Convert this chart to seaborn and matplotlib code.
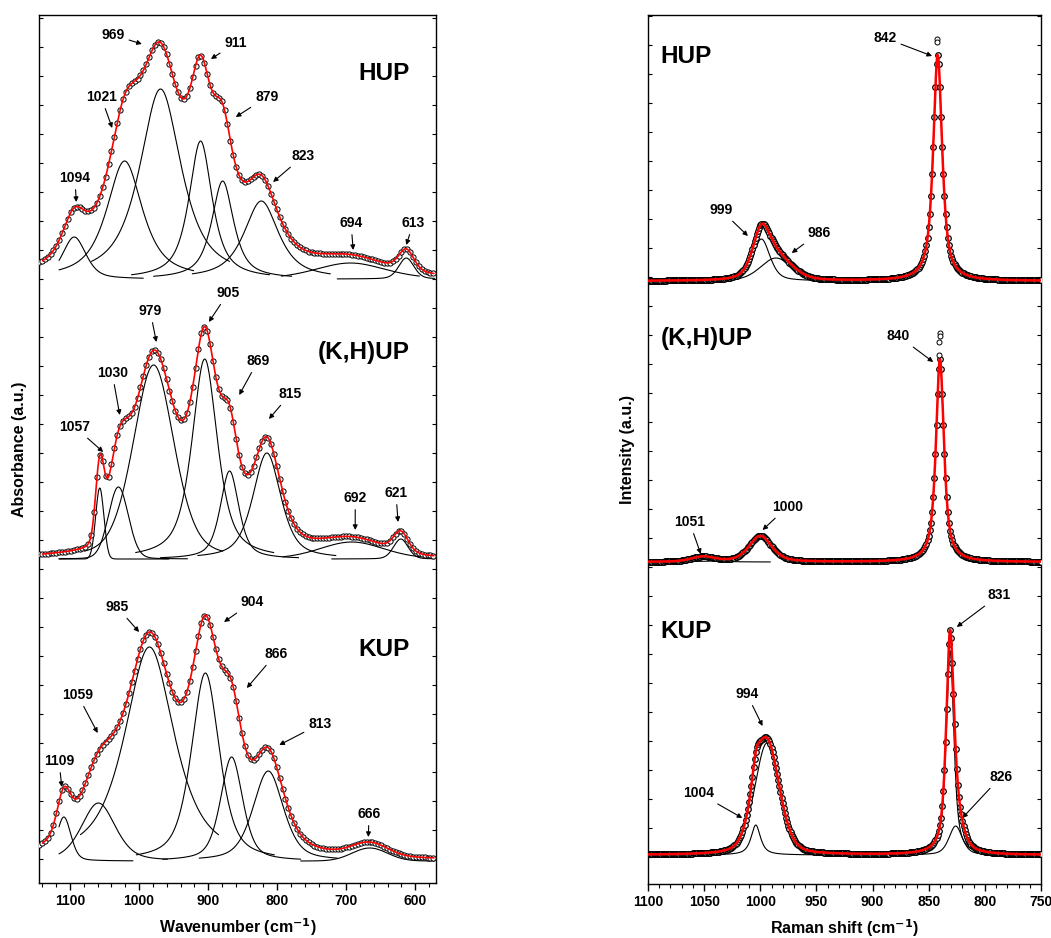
import numpy as np
import pandas as pd
import matplotlib
matplotlib.use("Agg")
import matplotlib.pyplot as plt
from matplotlib.ticker import MultipleLocator, FixedLocator
import seaborn as sns

sns.set_style("ticks")
plt.rcParams["font.family"] = ["Liberation Sans", "DejaVu Sans"]
plt.rcParams["font.weight"] = "bold"
plt.rcParams["mathtext.default"] = "bf"
for key in ["text.color", "axes.labelcolor", "xtick.color", "ytick.color", "axes.edgecolor"]:
    plt.rcParams[key] = "black"

# ---- IR (left column): band centre, height, FWHM, Lorentz fraction ----
ir_hup_pos = [1094, 1021, 969, 911, 879, 823, 694, 613]
ir_hup_amp = [42, 118, 190, 138, 98, 78, 16, 21]
ir_hup_fwhm = [40, 62, 72, 40, 38, 60, 120, 26]
ir_hup_eta = [0.5, 0.8, 0.8, 0.8, 0.8, 0.8, 0.3, 0.3]

ir_kh_pos = [1057, 1030, 979, 905, 869, 815, 692, 621]
ir_kh_amp = [71, 72, 194, 200, 88, 106, 17, 20]
ir_kh_fwhm = [14, 34, 70, 44, 32, 48, 110, 25]
ir_kh_eta = [0.0, 0.1, 0.35, 0.7, 0.6, 0.6, 0.2, 0.2]

ir_kup_pos = [1109, 1059, 985, 904, 866, 813, 666]
ir_kup_amp = [44, 58, 214, 188, 104, 90, 13]
ir_kup_fwhm = [24, 58, 86, 48, 38, 52, 60]
ir_kup_eta = [0.3, 0.4, 0.75, 0.6, 0.5, 0.5, 0.0]

ir_base = [604, 324, 22]
ir_names = ["HUP", "(K,H)UP", "KUP"]

# ---- Raman (right column) ----
ra_hup_pos = [999, 986, 842]
ra_hup_amp = [42, 23, 226]
ra_hup_fwhm = [18, 33, 9.5]
ra_hup_eta = [0.5, 0.3, 0.8]

ra_kh_pos = [1051, 1000, 840]
ra_kh_amp = [5, 26, 203]
ra_kh_fwhm = [25, 24, 8.5]
ra_kh_eta = [0.3, 0.5, 0.8]

ra_kup_pos = [1004, 994, 831, 826]
ra_kup_amp = [30, 112, 205, 29]
ra_kup_fwhm = [10, 26, 8, 14]
ra_kup_eta = [0.8, 0.3, 0.7, 0.5]

ra_base = [603, 322, 29]
ra_names = ["HUP", "(K,H)UP", "KUP"]

# points lying above the fitted maximum (Raman)
ra_hup_out_x = [842.3, 842.3]
ra_hup_out_y = [242, 239]
ra_kh_out_x = [840.3, 840.3, 840.5, 841.0]
ra_kh_out_y = [229, 226, 220, 207]

# peak labels: text, (x, y) of text, (x, y) of arrow tip
ir_labels = [
    ("969", (1038, 848), (996, 839)), ("911", (860, 840), (896, 824)),
    ("1021", (1055, 786), (1039, 755)), ("879", (815, 786), (860, 766)),
    ("823", (762, 727), (806, 701)), ("1094", (1093, 705), (1091, 681)),
    ("694", (693, 660), (690, 633)), ("613", (603, 660), (613, 638)),
    ("979", (984, 572), (975, 541)), ("905", (871, 590), (899, 561)),
    ("1030", (1039, 510), (1028, 468)), ("869", (828, 522), (855, 488)),
    ("815", (781, 489), (812, 464)), ("1057", (1093, 456), (1052, 431)),
    ("692", (687, 385), (687, 353)), ("621", (628, 390), (625, 361)),
    ("985", (1032, 276), (1000, 251)), ("904", (836, 281), (877, 261)),
    ("866", (802, 229), (844, 195)), ("1059", (1089, 188), (1060, 150)),
    ("813", (738, 159), (797, 138)), ("1109", (1116, 122), (1112, 96)),
    ("666", (667, 69), (668, 46)),
]
ir_name_xy = [(645, 809), (675, 530), (645, 233)]

ra_labels = [
    ("842", (889, 846), (847, 828)), ("999", (1035, 674), (1011, 648)),
    ("986", (948, 651), (972, 631)),
    ("840", (877, 548), (846, 522)), ("1000", (976, 377), (998, 354)),
    ("1051", (1063, 362), (1053, 330)),
    ("831", (787, 289), (825, 257)), ("994", (1012, 190), (998, 158)),
    ("1004", (1055, 91), (1016, 66)), ("826", (786, 107), (820, 66)),
]
ra_name_x = 1089


def pvoigt(x, c, a, w, eta):
    g = np.exp(-4 * np.log(2) * ((x - c) / w) ** 2)
    l = 1 / (1 + ((x - c) / (w / 2)) ** 2)
    return a * (eta * l + (1 - eta) * g)


def draw_stack(ax, sets, bases, x_fit, x_dat, x_lo, x_hi, win, fit_lw, msize, mlw):
    for (pos, amp, fwhm, eta), base in zip(sets, bases):
        rows = []
        for i, (c, a, w, e) in enumerate(zip(pos, amp, fwhm, eta)):
            xx = np.linspace(min(c + win, x_hi), max(c - win, x_lo), 200)
            rows.append(pd.DataFrame({"x": xx, "y": base + pvoigt(xx, c, a, w, e), "peak": i}))
        comp = pd.concat(rows)
        sns.lineplot(data=comp, x="x", y="y", units="peak", estimator=None, sort=False,
                     color="black", lw=0.8, ax=ax, legend=False)
        total = lambda xx: base + sum(pvoigt(xx, c, a, w, e) for c, a, w, e in zip(pos, amp, fwhm, eta))
        sns.scatterplot(x=x_dat, y=total(x_dat), ax=ax, marker="o", s=msize,
                        color="white", edgecolor="black", linewidth=mlw, zorder=3)
        sns.lineplot(x=x_fit, y=total(x_fit), ax=ax, color="red", lw=fit_lw,
                     estimator=None, sort=False, zorder=4)


fig = plt.figure(figsize=(10.51, 9.38), dpi=100)
ax1 = fig.add_axes([39 / 1051, 55 / 938, 397 / 1051, 868 / 938])
ax2 = fig.add_axes([648 / 1051, 54 / 938, 393 / 1051, 869 / 938])

# left: IR absorbance
draw_stack(ax1,
           [(ir_hup_pos, ir_hup_amp, ir_hup_fwhm, ir_hup_eta),
            (ir_kh_pos, ir_kh_amp, ir_kh_fwhm, ir_kh_eta),
            (ir_kup_pos, ir_kup_amp, ir_kup_fwhm, ir_kup_eta)],
           ir_base, np.linspace(1140, 573, 600), np.arange(1145, 571, -4.2),
           572, 1116, 100, 1.2, 14, 0.7)
for t, xy, tip in ir_labels:
    ax1.annotate(t, xy=tip, xytext=xy, ha="center", va="center", fontsize=10, fontweight="bold",
                 arrowprops=dict(arrowstyle="-|>", color="black", lw=0.8, mutation_scale=7,
                                 shrinkA=1, shrinkB=0))
for name, xy in zip(ir_names, ir_name_xy):
    ax1.text(xy[0], xy[1], name, ha="center", va="center", fontsize=17.5, fontweight="bold")
ax1.set_xlim(1145, 570)
ax1.set_ylim(0, 868)
ax1.xaxis.set_major_locator(MultipleLocator(100))
ax1.xaxis.set_minor_locator(MultipleLocator(20))
ax1.yaxis.set_major_locator(FixedLocator(np.arange(24, 868, 29)))
ax1.set_xlabel("Wavenumber (cm$^{-1}$)", fontsize=11.5, fontweight="bold")
ax1.set_ylabel("Absorbance (a.u.)", fontsize=11.5, fontweight="bold")

# right: Raman intensity
draw_stack(ax2,
           [(ra_hup_pos, ra_hup_amp, ra_hup_fwhm, ra_hup_eta),
            (ra_kh_pos, ra_kh_amp, ra_kh_fwhm, ra_kh_eta),
            (ra_kup_pos, ra_kup_amp, ra_kup_fwhm, ra_kup_eta)],
           ra_base, np.linspace(1100, 750, 1400), np.arange(1100, 749, -1.0),
           750, 1100, 60, 1.8, 16, 0.9)
sns.scatterplot(x=ra_hup_out_x, y=np.array(ra_hup_out_y) + ra_base[0], ax=ax2, marker="o", s=13,
                color="white", edgecolor="black", linewidth=0.7, zorder=5)
sns.scatterplot(x=ra_kh_out_x, y=np.array(ra_kh_out_y) + ra_base[1], ax=ax2, marker="o", s=13,
                color="white", edgecolor="black", linewidth=0.7, zorder=5)
for t, xy, tip in ra_labels:
    ax2.annotate(t, xy=tip, xytext=xy, ha="center", va="center", fontsize=10, fontweight="bold",
                 arrowprops=dict(arrowstyle="-|>", color="black", lw=0.8, mutation_scale=7,
                                 shrinkA=1, shrinkB=0))
for name, base in zip(ra_names, ra_base):
    ax2.text(ra_name_x, base + 224, name, ha="left", va="center", fontsize=17.5, fontweight="bold")
ax2.set_xlim(1100, 750)
ax2.set_ylim(0, 869)
ax2.xaxis.set_major_locator(MultipleLocator(50))
ax2.xaxis.set_minor_locator(MultipleLocator(10))
ax2.yaxis.set_major_locator(FixedLocator(np.arange(27, 869, 29)))
ax2.set_xlabel("Raman shift (cm$^{-1}$)", fontsize=11.5, fontweight="bold")
ax2.set_ylabel("Intensity (a.u.)", fontsize=11.5, fontweight="bold")

for ax, ylx in ((ax1, -0.05), (ax2, -0.051)):
    ax.xaxis.set_label_coords(0.5, -0.051)
    ax.xaxis.label.set_verticalalignment("center")
    ax.yaxis.set_label_coords(ylx, 0.5)
    ax.yaxis.label.set_verticalalignment("center")
    for s in ax.spines.values():
        s.set_linewidth(1.0)
        s.set_color("black")
    ax.tick_params(axis="x", which="major", direction="out", length=5, width=1,
                   labelsize=10, pad=3)
    ax.tick_params(axis="x", which="minor", direction="out", length=3, width=0.8)
    ax.tick_params(axis="y", which="major", direction="in", length=3, width=0.8,
                   left=True, right=True, labelleft=False)
    for lab in ax.get_xticklabels():
        lab.set_fontweight("bold")

fig.savefig("out.png", dpi=100)
